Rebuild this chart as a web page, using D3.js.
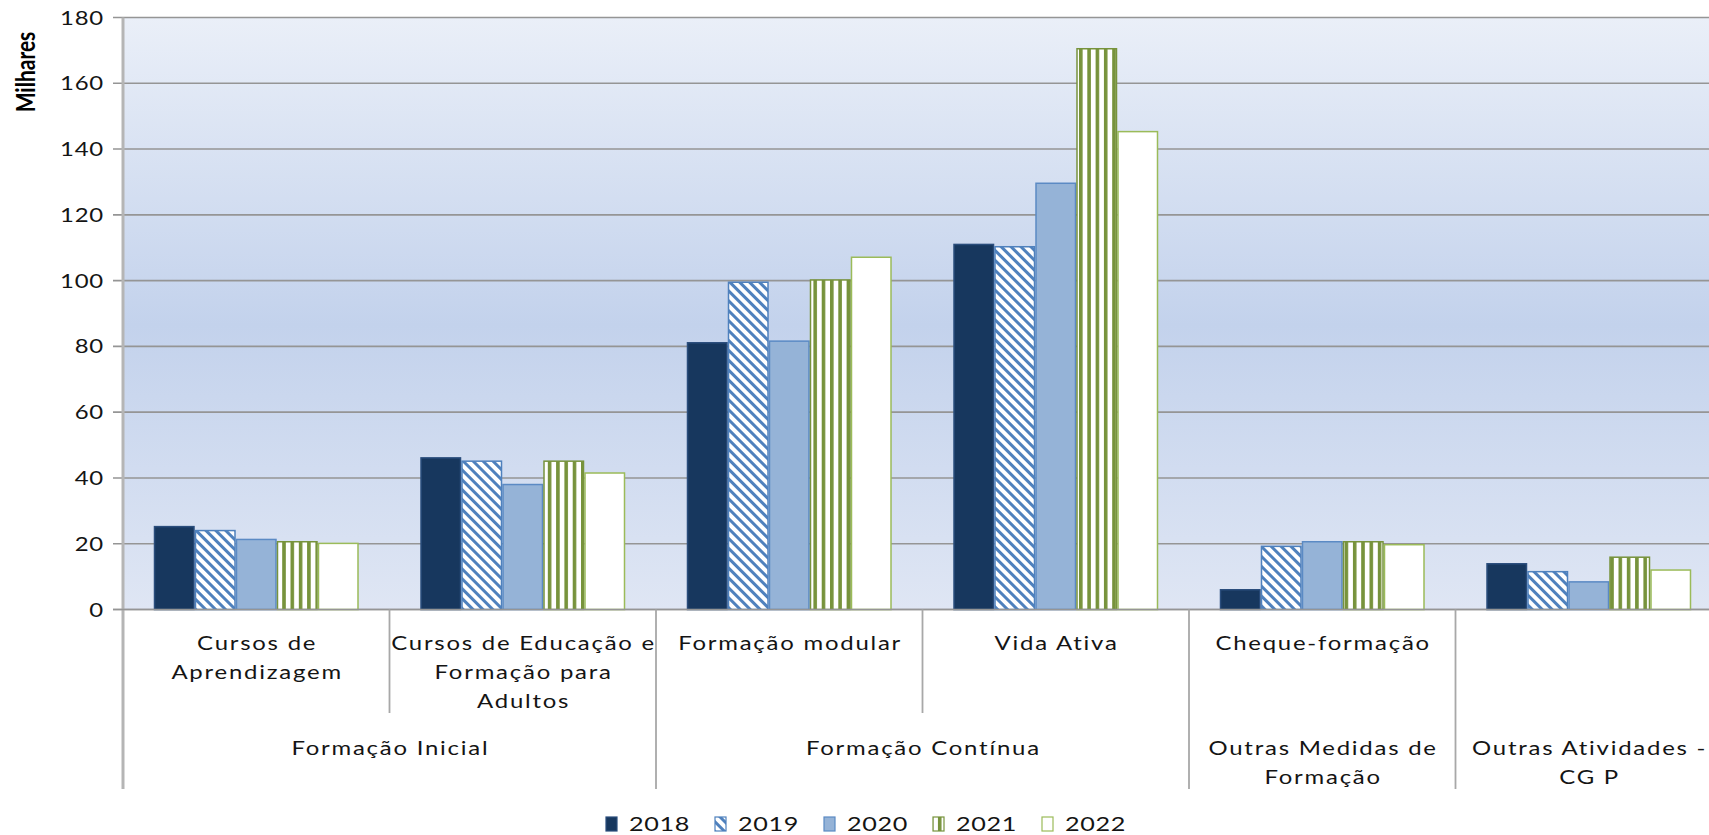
<!DOCTYPE html>
<html>
<head>
<meta charset="utf-8">
<script src="https://cdn.jsdelivr.net/npm/d3@7/dist/d3.min.js"></script>
<style>
  html, body { margin: 0; padding: 0; background: #fff; overflow: hidden; }
  svg { display: block; }
  text { font-family: Lato, "Open Sans", sans-serif; fill: #141414; }
</style>
</head>
<body>
<svg id="chart" width="1709" height="835"></svg>
<script>
// ---- data ----
const categories = ["Cursos de Aprendizagem", "Cursos de Educação e Formação para Adultos", "Formação modular", "Vida Ativa", "Cheque-formação", "Outras Atividades - CGP"];
const categoryLabelLines = [["Cursos de", "Aprendizagem"], ["Cursos de Educação e", "Formação para", "Adultos"], ["Formação modular"], ["Vida Ativa"], ["Cheque-formação"], []];
const groups = ["Formação Inicial", "Formação Contínua", "Outras Medidas de Formação", "Outras Atividades - CGP"];
const groupLabelLines = [["Formação Inicial"], ["Formação Contínua"], ["Outras Medidas de", "Formação"], ["Outras Atividades -", "CG P"]];
const groupSpans = [[0, 1], [2, 3], [4, 4], [5, 5]];
const years = ["2018", "2019", "2020", "2021", "2022"];
const values2018 = [25.2, 46.1, 81.1, 111.0, 6.0, 13.9];
const values2019 = [24.0, 45.1, 99.5, 110.3, 19.2, 11.5];
const values2020 = [21.3, 38.0, 81.6, 129.6, 20.6, 8.4];
const values2021 = [20.6, 45.1, 100.2, 170.5, 20.6, 15.9];
const values2022 = [20.1, 41.5, 107.1, 145.3, 19.7, 12.0];
const seriesValues = [values2018, values2019, values2020, values2021, values2022];
const yTicks = [0, 20, 40, 60, 80, 100, 120, 140, 160, 180];
const yTitle = "Milhares";

// ---- styles ----
const fills = ["#17375e", "url(#pat2019)", "#95b3d7", "url(#pat2021)", "#ffffff"];
const strokes = ["#2a4d7c", "#4f81bd", "#5b8ac4", "#77933c", "#9bbb59"];
const SX = 1.26; // horizontal text stretch

const svg = d3.select("#chart");
const defs = svg.append("defs");

const grad = defs.append("linearGradient").attr("id", "bg").attr("x1", 0).attr("y1", 0).attr("x2", 0).attr("y2", 1);
grad.append("stop").attr("offset", "0%").attr("stop-color", "#eaeff8");
grad.append("stop").attr("offset", "52%").attr("stop-color", "#c3d2ec");
grad.append("stop").attr("offset", "100%").attr("stop-color", "#dfe6f4");

const p19 = defs.append("pattern").attr("id", "pat2019").attr("patternUnits", "userSpaceOnUse")
  .attr("width", 7).attr("height", 7).attr("patternTransform", "rotate(-45)");
p19.append("rect").attr("width", 7).attr("height", 7).attr("fill", "#fff");
p19.append("rect").attr("width", 3).attr("height", 7).attr("fill", "#4f81bd");

const p21 = defs.append("pattern").attr("id", "pat2021").attr("patternUnits", "userSpaceOnUse")
  .attr("width", 8.3).attr("height", 10);
p21.append("rect").attr("width", 8.3).attr("height", 10).attr("fill", "#fff");
p21.append("rect").attr("width", 3.6).attr("height", 10).attr("fill", "#77933c");

// ---- scales ----
const plotLeft = 123, plotRight = 1722, plotTop = 17.5, plotBase = 609.5;
const y = d3.scaleLinear().domain([0, 180]).range([plotBase, plotTop]);
const x0 = d3.scaleBand().domain(categories).range([plotLeft, plotRight]).paddingInner(0).paddingOuter(0);
const x1 = d3.scaleBand().domain(years).range([0, x0.bandwidth()]).paddingInner(0).paddingOuter(0.75);

function txt(g, x, yy, s, opts = {}) {
  const ls = opts.ls || 0;
  const anchor = opts.anchor || "middle";
  const dx = anchor === "middle" ? ls * SX / 2 : 0;
  return g.append("text")
    .attr("transform", `translate(${x + dx},${yy}) scale(${opts.sx || SX},1)`)
    .attr("text-anchor", anchor)
    .attr("dominant-baseline", "central")
    .style("font-size", (opts.size || 19) + "px")
    .style("font-weight", opts.weight || "normal")
    .style("letter-spacing", ls + "px")
    .text(s);
}

// plot background
svg.append("rect").attr("x", plotLeft).attr("y", plotTop).attr("width", plotRight - plotLeft).attr("height", plotBase - plotTop).attr("fill", "url(#bg)");

// gridlines
svg.append("g").selectAll("line").data(yTicks).join("line")
  .attr("x1", plotLeft - 10).attr("x2", plotRight)
  .attr("y1", d => y(d)).attr("y2", d => y(d))
  .attr("stroke", "#959595").attr("stroke-width", 1.6);

// y tick labels
const yl = svg.append("g");
yTicks.forEach(t => txt(yl, 104, y(t), String(t), { anchor: "end", size: 19, ls: 0.6 }));

// y title
svg.append("text")
  .attr("transform", `translate(24,72) scale(${SX},1) rotate(-90)`)
  .attr("text-anchor", "middle").attr("dominant-baseline", "central")
  .style("font-size", "21px").style("font-weight", "bold").style("fill", "#000")
  .text(yTitle);

// bars
const barG = svg.append("g");
years.forEach((yr, si) => {
  barG.append("g").selectAll("rect").data(seriesValues[si]).join("rect")
    .attr("x", (d, i) => x0(categories[i]) + x1(yr) + 0.75)
    .attr("y", d => y(d))
    .attr("width", x1.bandwidth() - 1.5)
    .attr("height", d => plotBase - y(d))
    .attr("fill", fills[si])
    .attr("stroke", strokes[si]).attr("stroke-width", 1.5);
});

// axes lines
svg.append("line").attr("x1", plotLeft).attr("x2", plotLeft).attr("y1", plotTop).attr("y2", 789)
  .attr("stroke", "#b5b5b5").attr("stroke-width", 3);
svg.append("line").attr("x1", plotLeft - 10).attr("x2", plotRight).attr("y1", plotBase).attr("y2", plotBase)
  .attr("stroke", "#959595").attr("stroke-width", 1.6);

// category separators
const sepG = svg.append("g");
categories.forEach((c, i) => {
  if (i === 0) return;
  const isGroupEdge = groupSpans.some(s => s[0] === i);
  sepG.append("line").attr("x1", x0(c)).attr("x2", x0(c)).attr("y1", plotBase).attr("y2", isGroupEdge ? 789 : 713)
    .attr("stroke", "#a8a8a8").attr("stroke-width", 1.8);
});
sepG.append("line").attr("x1", plotRight).attr("x2", plotRight).attr("y1", plotBase).attr("y2", 789)
  .attr("stroke", "#a8a8a8").attr("stroke-width", 1.8);

// category labels
const labG = svg.append("g");
categories.forEach((c, i) => {
  const cx = x0(c) + x0.bandwidth() / 2;
  categoryLabelLines[i].forEach((ln, k) => txt(labG, cx, 643 + k * 29, ln, { size: 19, ls: 1.4 }));
});
groups.forEach((g, gi) => {
  const [a, b] = groupSpans[gi];
  const cx = (x0(categories[a]) + x0(categories[b]) + x0.bandwidth()) / 2;
  groupLabelLines[gi].forEach((ln, k) => txt(labG, cx, 748 + k * 29, ln, { size: 19, ls: 1.4 }));
});

// legend
const legG = svg.append("g");
const legX = d3.scalePoint().domain(years).range([606, 1042]);
years.forEach((yr, si) => {
  const lx = legX(yr);
  legG.append("rect").attr("x", lx).attr("y", 817).attr("width", 11).attr("height", 14)
    .attr("fill", fills[si]).attr("stroke", strokes[si]).attr("stroke-width", 1.2);
  txt(legG, lx + 23, 824, yr, { anchor: "start", size: 20, ls: 0.5 });
});
</script>
</body>
</html>
